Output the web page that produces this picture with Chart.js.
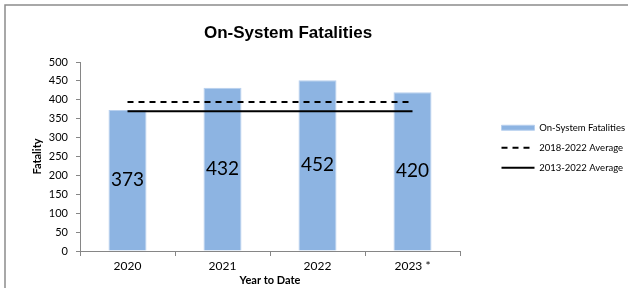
<!DOCTYPE html>
<html>
<head>
<meta charset="utf-8">
<script src="https://cdn.jsdelivr.net/npm/chart.js@4/dist/chart.umd.min.js"></script>
<style>
html,body{margin:0;padding:0;background:#fff;}
#wrap{width:628px;height:288px;position:relative;}
</style>
</head>
<body>
<div id="wrap"><canvas id="c" width="628" height="288"></canvas></div>
<script>
const categories = ['2020', '2021', '2022', '2023 *'];
const fatalities = [373, 432, 452, 420];
const avg5yr = [394, 394, 394, 394];
const avg10yr = [370, 370, 370, 370];
const yTicks = [0, 50, 100, 150, 200, 250, 300, 350, 400, 450, 500];
const seriesNames = ['On-System Fatalities', '2018-2022 Average', '2013-2022 Average'];
const chartTitle = 'On-System Fatalities';
const xTitle = 'Year to Date';
const yTitle = 'Fatality';

const AXIS = '#868686';
const FONT = 'Lato, "Open Sans", sans-serif';
const DASH = [6, 5];

const framePlugin = {
  id: 'frame',
  beforeDraw(chart) {
    const ctx = chart.ctx;
    ctx.save();
    ctx.fillStyle = '#fff';
    ctx.fillRect(0, 0, chart.width, chart.height);
    ctx.strokeStyle = '#8c8c8c';
    ctx.lineWidth = 1.5;
    ctx.beginPath();
    ctx.moveTo(5, chart.height);
    ctx.lineTo(5, 5);
    ctx.lineTo(chart.width, 5);
    ctx.stroke();
    ctx.restore();
  },
  afterLayout(chart) {
    const lg = chart.legend;
    if (lg) {
      const w = lg.width, h = lg.height;
      lg.left = 491; lg.right = 491 + w;
      lg.top = 112.5; lg.bottom = 112.5 + h;
    }
    const tb = chart.titleBlock;
    if (tb) {
      const half = 200;
      tb.left = 288 - half; tb.right = 288 + half;
    }
  }
};

const valueLabels = {
  id: 'valueLabels',
  afterDatasetsDraw(chart) {
    const ctx = chart.ctx;
    const meta = chart.getDatasetMeta(0);
    ctx.save();
    ctx.fillStyle = '#000';
    ctx.font = '19px ' + FONT;
    ctx.textAlign = 'center';
    ctx.textBaseline = 'middle';
    meta.data.forEach((bar, i) => {
      const y = (bar.y + bar.base) / 2;
      ctx.fillText(String(fatalities[i]), bar.x, y);
    });
    ctx.restore();
  }
};

new Chart(document.getElementById('c'), {
  type: 'bar',
  data: {
    labels: categories,
    datasets: [
      {
        label: seriesNames[0],
        data: fatalities,
        backgroundColor: '#8DB4E2',
        borderColor: '#B8D0EE',
        borderWidth: 1,
        barPercentage: 0.4,
        categoryPercentage: 1,
        pointStyle: 'rect',
        order: 1
      },
      {
        type: 'line',
        label: seriesNames[1],
        data: avg5yr,
        borderColor: '#000',
        backgroundColor: '#000',
        borderWidth: 2,
        borderDash: DASH,
        pointRadius: 0,
        pointStyle: 'line',
        order: 0
      },
      {
        type: 'line',
        label: seriesNames[2],
        data: avg10yr,
        borderColor: '#000',
        backgroundColor: '#000',
        borderWidth: 2,
        pointRadius: 0,
        pointStyle: 'line',
        order: 0
      }
    ]
  },
  options: {
    responsive: false,
    animation: false,
    devicePixelRatio: 1,
    layout: { padding: { left: 4, right: 168, top: 0, bottom: 0 } },
    plugins: {
      title: {
        display: true,
        text: chartTitle,
        color: '#000',
        font: { family: '"Liberation Sans", Arial, sans-serif', size: 17, weight: 'bold', lineHeight: 1.2 },
        padding: { top: 22.8, bottom: 18.8 }
      },
      legend: {
        position: 'chartArea',
        align: 'start',
        labels: {
          usePointStyle: true,
          pointStyleWidth: 33,
          boxHeight: 5,
          padding: 10.5,
          color: '#000',
          font: { family: FONT, size: 9.5 },
          sort: (a, b) => a.datasetIndex - b.datasetIndex,
          generateLabels(chart) {
            const items = Chart.defaults.plugins.legend.labels.generateLabels(chart);
            items.forEach(it => {
              const ds = chart.data.datasets[it.datasetIndex];
              if (ds.borderDash) it.lineDash = ds.borderDash;
              if (ds.type === 'line') { it.lineWidth = 2; it.strokeStyle = '#000'; }
            });
            return items;
          }
        }
      },
      tooltip: { enabled: false }
    },
    scales: {
      x: {
        offset: true,
        grid: { display: true, drawOnChartArea: false, drawTicks: true, tickLength: 5, color: AXIS, offset: true },
        border: { display: true, color: AXIS, width: 1 },
        ticks: { color: '#000', font: { family: FONT, size: 12 }, padding: 3 },
        title: { display: true, text: xTitle, color: '#000', font: { family: FONT, size: 11, weight: 'bold' }, padding: { top: 0, bottom: 1.4 } },
        afterFit(scale) { scale.height = 37; }
      },
      y: {
        min: 0,
        max: 500,
        afterBuildTicks(scale) { scale.ticks = yTicks.map(v => ({ value: v })); },
        grid: { display: true, drawOnChartArea: false, drawTicks: true, tickLength: 4, color: AXIS },
        border: { display: true, color: AXIS, width: 1 },
        ticks: { color: '#000', font: { family: FONT, size: 11 }, padding: 8 },
        title: { display: true, text: yTitle, color: '#000', font: { family: FONT, size: 11, weight: 'bold' }, padding: { top: 26.4, bottom: 0 } },
        afterFit(scale) { scale.width = 76; }
      }
    }
  },
  plugins: [framePlugin, valueLabels]
});
</script>
</body>
</html>
